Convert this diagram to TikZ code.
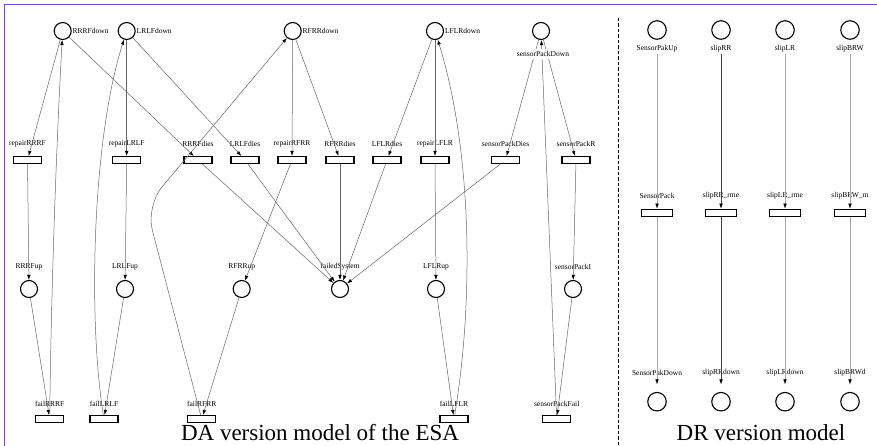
\documentclass[tikz,border=0pt]{standalone}
\usepackage{fontspec}
\setmainfont{Liberation Serif}
\usetikzlibrary{arrows.meta}
\definecolor{frameblue}{RGB}{90,90,230}
\begin{document}
\begin{tikzpicture}[x=1pt,y=-1pt,
  place/.style={circle,draw,line width=1.1pt,fill=white,minimum size=17pt,inner sep=0pt},
  drplace/.style={place,minimum size=18.5pt},
  trans/.style={rectangle,draw,line width=1.1pt,fill=white,minimum width=28pt,minimum height=7pt,inner sep=0pt},
  drtrans/.style={trans,minimum width=31pt},
  lbl/.style={font=\fontsize{7.5}{8}\selectfont,inner sep=1pt},
  arc/.style={draw=black!60,line width=0.5pt,-{Latex[length=5pt,width=3.5pt,black]}},
  lightarc/.style={arc,draw=black!35},
  darkarc/.style={arc,draw=black!75},
  caption/.style={font=\fontsize{23}{25}\selectfont,anchor=base,inner sep=0pt},
]
\useasboundingbox (0,0) rectangle (877,446);

% frame and divider
\draw[line width=1.5pt,frameblue] (877,4.5) -- (4.5,4.5) -- (4.5,446);
\draw[line width=0.8pt,dash pattern=on 3.5pt off 2pt] (618.5,18) -- (618.5,446);

% ---------------- DA model ----------------
% places: down states
\node[place] (RRRFdown) at (62.7,31) {};
\node[place] (LRLFdown) at (126.7,31) {};
\node[place] (RFRRdown) at (292.7,31) {};
\node[place] (LFLRdown) at (435,31) {};
\node[place] (sensorPackDown) at (541,31) {};
\node[lbl,anchor=west] (RRRFdownL) at (71.5,31) {RRRFdown};
\node[lbl,anchor=west] (LRLFdownL) at (135.5,31) {LRLFdown};
\node[lbl,anchor=west] (RFRRdownL) at (301.5,31) {RFRRdown};
\node[lbl,anchor=west] (LFLRdownL) at (443.8,31) {LFLRdown};

% transitions: repair / dies
\node[trans] (repairRRRF) at (27.5,160) {};
\node[trans] (repairLRLF) at (126.7,160) {};
\node[trans] (RRRFdies) at (198,160) {};
\node[trans] (LRLFdies) at (245,160) {};
\node[trans] (repairRFRR) at (292,160) {};
\node[trans] (RFRRdies) at (340,160) {};
\node[trans] (LFLRdies) at (387,160) {};
\node[trans] (repairLFLR) at (435,160) {};
\node[trans] (sensorPackDies) at (505.5,160) {};
\node[trans] (sensorPackR) at (576,160) {};
\node[lbl] (repairRRRFL) at (27.5,144) {repairRRRF};
\node[lbl] (repairLRLFL) at (126.7,144) {repairLRLF};
\node[lbl] (RRRFdiesL) at (198,144) {RRRFdies};
\node[lbl] (LRLFdiesL) at (245,144) {LRLFdies};
\node[lbl] (repairRFRRL) at (292,144) {repairRFRR};
\node[lbl] (RFRRdiesL) at (340,144) {RFRRdies};
\node[lbl] (LFLRdiesL) at (387,144) {LFLRdies};
\node[lbl] (repairLFLRL) at (435,144) {repairLFLR};
\node[lbl] (sensorPackDiesL) at (505.5,144) {sensorPackDies};
\node[lbl] (sensorPackRL) at (576,144) {sensorPackR};

% places: up states
\node[place] (RRRFup) at (29,289) {};
\node[place] (LRLFup) at (125,289) {};
\node[place] (RFRRup) at (241.7,289) {};
\node[place] (failedSystem) at (340,289) {};
\node[place] (LFLRup) at (436,289) {};
\node[place] (sensorPackI) at (573,289) {};
\node[lbl] (RRRFupL) at (29,266.7) {RRRFup};
\node[lbl] (LRLFupL) at (125,266.7) {LRLFup};
\node[lbl] (RFRRupL) at (241.7,266.7) {RFRRup};
\node[lbl] (failedSystemL) at (340,266.7) {failedSystem};
\node[lbl] (LFLRupL) at (436,266.7) {LFLRup};
\node[lbl] (sensorPackIL) at (573,266.7) {sensorPackI};

% transitions: fail
\node[trans] (failRRRF) at (49.7,419) {};
\node[trans] (failLRLF) at (104,419) {};
\node[trans] (failRFRR) at (201.7,419) {};
\node[trans] (failLFLR) at (454,419) {};
\node[trans] (sensorPackFail) at (556.7,419) {};
\node[lbl] (failRRRFL) at (49.7,403.7) {failRRRF};
\node[lbl] (failLRLFL) at (104,403.7) {failLRLF};
\node[lbl] (failRFRRL) at (201.7,403.7) {failRFRR};
\node[lbl] (failLFLRL) at (454,403.7) {failLFLR};
\node[lbl] (sensorPackFailL) at (556.7,403.7) {sensorPackFail};

% arcs: RRRF
\draw[arc] (RRRFdown) -- (repairRRRF);
\draw[arc] (repairRRRF) -- (RRRFup);
\draw[arc] (RRRFup) -- (failRRRF);
\draw[arc] (failRRRF) .. controls (51,300) and (56,150) .. (RRRFdown);
\draw[arc] (RRRFdown) -- (RRRFdies);
\draw[arc] (RRRFdies) -- (failedSystem);
% arcs: LRLF
\draw[arc] (LRLFdown) -- (repairLRLF);
\draw[arc] (repairLRLF) -- (LRLFup);
\draw[arc] (LRLFup) -- (failLRLF);
\draw[arc] (failLRLF) .. controls (88,320) and (92,140) .. (LRLFdown);
\draw[arc] (LRLFdown) -- (LRLFdies);
\draw[arc] (LRLFdies) -- (failedSystem);
% arcs: RFRR
\draw[arc] (RFRRdown) -- (repairRFRR);
\draw[arc] (repairRFRR) -- (RFRRup);
\draw[arc] (RFRRup) -- (failRFRR);
\draw[arc,rounded corners=25pt] (failRFRR) -- (146,206) -- (RFRRdown);
\draw[arc] (RFRRdown) -- (RFRRdies);
\draw[arc] (RFRRdies) -- (failedSystem);
% arcs: LFLR
\draw[arc] (LFLRdown) -- (LFLRdies);
\draw[arc] (LFLRdies) -- (failedSystem);
\draw[arc] (LFLRdown) -- (repairLFLR);
\draw[arc] (repairLFLR) -- (LFLRup);
\draw[arc] (LFLRup) -- (failLFLR);
\draw[arc] (failLFLR) .. controls (474,300) and (472,150) .. (LFLRdown);
% arcs: sensor pack
\draw[arc] (sensorPackDown) -- (sensorPackDies);
\draw[arc] (sensorPackDies) -- (failedSystem);
\draw[arc] (sensorPackDown) -- (sensorPackR);
\draw[arc] (sensorPackR) -- (sensorPackI);
\draw[arc] (sensorPackI) -- (sensorPackFail);
\draw[arc] (sensorPackFail) -- (sensorPackDown);
\node[lbl,fill=white,inner ysep=2pt] (sensorPackDownL) at (543,54) {sensorPackDown};

\node[caption] (capDA) at (320,440.5) {DA version model of the ESA};

% ---------------- DR model ----------------
\node[drplace] (SensorPakUp) at (657,30) {};
\node[drplace] (slipRR) at (721,30) {};
\node[drplace] (slipLR) at (785,30) {};
\node[drplace] (slipBRW) at (850,30) {};
\node[lbl] (SensorPakUpL) at (657,49) {SensorPakUp};
\node[lbl] (slipRRL) at (721,49) {slipRR};
\node[lbl] (slipLRL) at (785,49) {slipLR};
\node[lbl] (slipBRWL) at (850,49) {slipBRW};

\node[drtrans] (SensorPack) at (657,212.7) {};
\node[drtrans] (slipRRrme) at (721,212.7) {};
\node[drtrans] (slipLRrme) at (785,212.7) {};
\node[drtrans] (slipBRWrme) at (850,212.7) {};
\node[lbl] (SensorPackL) at (657,196) {SensorPack};
\node[lbl] (slipRRrmeL) at (721,196) {slipRR\_rme};
\node[lbl] (slipLRrmeL) at (785,196) {slipLR\_rme};
\node[lbl] (slipBRWrmeL) at (850,196) {slipBRW\_m};

\node[drplace] (SensorPakDown) at (657,401.7) {};
\node[drplace] (slipRRdown) at (721,401.7) {};
\node[drplace] (slipLRdown) at (785,401.7) {};
\node[drplace] (slipBRWd) at (850,401.7) {};
\node[lbl] (SensorPakDownL) at (657,373) {SensorPakDown};
\node[lbl] (slipRRdownL) at (721,373) {slipRRdown};
\node[lbl] (slipLRdownL) at (785,373) {slipLRdown};
\node[lbl] (slipBRWdL) at (850,373) {slipBRWd};

\draw[lightarc] (SensorPakUpL) -- (SensorPack);
\draw[darkarc] (slipRRL) -- (slipRRrme);
\draw[lightarc] (slipLRL) -- (slipLRrme);
\draw[lightarc] (slipBRWL) -- (slipBRWrme);
\draw[lightarc,shorten >=7.5pt] (SensorPack) -- (SensorPakDown);
\draw[darkarc,shorten >=7.5pt] (slipRRrme) -- (slipRRdown);
\draw[lightarc,shorten >=7.5pt] (slipLRrme) -- (slipLRdown);
\draw[lightarc,shorten >=7.5pt] (slipBRWrme) -- (slipBRWd);

\node[caption] (capDR) at (761,440.5) {DR version model};
\end{tikzpicture}
\end{document}
